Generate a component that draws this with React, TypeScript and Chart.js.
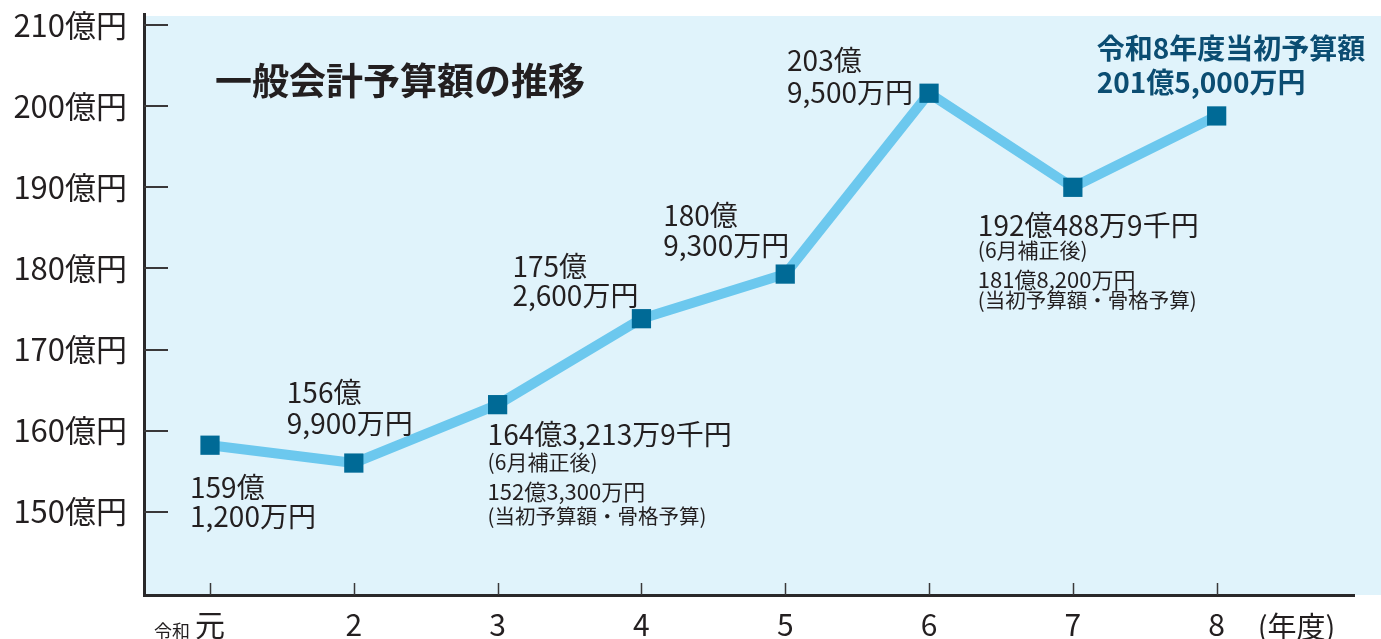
import { useEffect, useRef } from 'react';
import { Chart, registerables } from 'chart.js';

Chart.register(...registerables);

// ---- data ----
const YEARS = [0, 1, 2, 3, 4, 5, 6, 7];
const YEAR_LABELS = ['元', '2', '3', '4', '5', '6', '7', '8'];
// values as drawn on the chart's axis (億円)
const BUDGET_PLOT = [158.2, 156.0, 163.2, 173.8, 179.3, 201.6, 190.0, 198.8];
const Y_TICKS = [150, 160, 170, 180, 190, 200, 210];
const AMOUNT_LABELS: string[][] = [
  ['159億', '1,200万円'],
  ['156億', '9,900万円'],
  ['164億3,213万9千円', '(6月補正後)', '152億3,300万円', '(当初予算額・骨格予算)'],
  ['175億', '2,600万円'],
  ['180億', '9,300万円'],
  ['203億', '9,500万円'],
  ['192億488万9千円', '(6月補正後)', '181億8,200万円', '(当初予算額・骨格予算)'],
  ['令和8年度当初予算額', '201億5,000万円'],
];
const TITLE = '一般会計予算額の推移';
const ERA_PREFIX = '令和';
const X_UNIT = '(年度)';
const Y_UNIT = '億円';

// ---- styles ----
const FONT = '"Noto Sans CJK JP", "Noto Sans", sans-serif';
const TEXT = '#231f20';
const PANEL_BG = '#e0f3fb';
const LINE = '#6cc8ee';
const MARK = '#006a96';
const HIGHLIGHT = '#0b4d72';
const AXIS = '#2a2829';

type LabelStyle = { dx: number; dys: number[]; sizes: number[]; bold?: boolean; color?: string };
const LABEL_LAYOUT: LabelStyle[] = [
  { dx: -20, dys: [42, 71], sizes: [28, 28] },
  { dx: -67, dys: [-71, -40], sizes: [28, 28] },
  { dx: -10, dys: [30, 57, 87, 112], sizes: [28, 21, 22, 20.5] },
  { dx: -129, dys: [-52, -23], sizes: [28, 28] },
  { dx: -122, dys: [-59, -29], sizes: [28, 28] },
  { dx: -142, dys: [-33, -1], sizes: [28, 28] },
  { dx: -95, dys: [38, 63, 92, 113], sizes: [28, 21, 22, 20.5] },
  { dx: -120, dys: [-68, -34], sizes: [28, 28], bold: true, color: HIGHLIGHT },
];

const decorPlugin = {
  id: 'decor',
  beforeDraw(chart: any) {
    const { ctx, chartArea, width } = chart;
    ctx.save();
    ctx.fillStyle = PANEL_BG;
    ctx.fillRect(chartArea.left + 1, chartArea.top + 2, width - chartArea.left - 1, chartArea.bottom - chartArea.top - 2);
    ctx.restore();
  },
  beforeDatasetsDraw(chart: any) {
    const { ctx, chartArea, scales } = chart;
    const x = scales.x;
    const y = scales.y;
    ctx.save();
    ctx.strokeStyle = '#3a3839';
    ctx.lineWidth = 2;
    Y_TICKS.forEach((v) => {
      const py = Math.round(y.getPixelForValue(v));
      ctx.beginPath();
      ctx.moveTo(chartArea.left, py);
      ctx.lineTo(chartArea.left + 24, py);
      ctx.stroke();
    });
    ctx.lineWidth = 1.5;
    YEARS.forEach((v) => {
      const px = Math.round(x.getPixelForValue(v)) + 0.5;
      ctx.beginPath();
      ctx.moveTo(px, chartArea.bottom);
      ctx.lineTo(px, chartArea.bottom - 12);
      ctx.stroke();
    });
    ctx.restore();
  },
  afterDraw(chart: any) {
    const { ctx, chartArea, scales } = chart;
    const x = scales.x;
    const y = scales.y;
    ctx.save();
    ctx.textBaseline = 'middle';
    ctx.textAlign = 'left';
    // title
    ctx.fillStyle = TEXT;
    ctx.font = `bold 37px ${FONT}`;
    ctx.fillText(TITLE, chartArea.left + 71, chartArea.top + 67);
    // value labels
    AMOUNT_LABELS.forEach((lines, i) => {
      const lay = LABEL_LAYOUT[i];
      const px = x.getPixelForValue(YEARS[i]);
      const py = y.getPixelForValue(BUDGET_PLOT[i]);
      ctx.fillStyle = lay.color || TEXT;
      lines.forEach((t, j) => {
        ctx.font = `${lay.bold ? 'bold ' : ''}${lay.sizes[j]}px ${FONT}`;
        ctx.fillText(t, px + lay.dx, py + lay.dys[j]);
      });
    });
    // axis extras
    ctx.fillStyle = TEXT;
    ctx.font = `18px ${FONT}`;
    ctx.textAlign = 'right';
    ctx.fillText(ERA_PREFIX, x.getPixelForValue(YEARS[0]) - 20, chartArea.bottom + 36);
    ctx.font = `29px ${FONT}`;
    ctx.textAlign = 'left';
    ctx.fillText(X_UNIT, x.getPixelForValue(YEARS[YEARS.length - 1]) + 41, chartArea.bottom + 32);
    ctx.restore();
  },
};

export default function App() {
  const ref = useRef<HTMLCanvasElement | null>(null);
  useEffect(() => {
    if (!ref.current) return;
    const chart = new Chart(ref.current, {
      type: 'line',
      data: {
        datasets: [
          {
            data: YEARS.map((v, i) => ({ x: v, y: BUDGET_PLOT[i] })),
            borderColor: LINE,
            borderWidth: 10,
            borderJoinStyle: 'round',
            pointStyle: 'rect',
            pointRadius: 13.6,
            pointHoverRadius: 13.6,
            pointBackgroundColor: MARK,
            pointBorderWidth: 0,
            tension: 0,
            fill: false,
          },
        ],
      },
      options: {
        responsive: false,
        animation: false,
        events: [],
        layout: { padding: { top: 14, right: 27, left: 0, bottom: 0 } },
        plugins: { legend: { display: false }, tooltip: { enabled: false }, title: { display: false } },
        scales: {
          x: {
            type: 'linear',
            min: -0.459,
            max: 7.955,
            afterBuildTicks: (s: any) => {
              s.ticks = YEARS.map((v) => ({ value: v }));
            },
            afterFit: (s: any) => {
              s.height = 44;
              s.paddingLeft = 0;
              s.paddingRight = 0;
            },
            grid: { display: false, drawTicks: false },
            border: { display: true, color: AXIS, width: 3 },
            ticks: {
              autoSkip: false,
              maxRotation: 0,
              padding: 12,
              color: TEXT,
              font: { family: FONT, size: 30 },
              callback: (v: any) => YEAR_LABELS[YEARS.indexOf(Number(v))] ?? '',
            },
          },
          y: {
            type: 'linear',
            min: 139.73,
            max: 211.37,
            afterBuildTicks: (s: any) => {
              s.ticks = Y_TICKS.map((v) => ({ value: v }));
            },
            afterFit: (s: any) => {
              s.width = 144;
              s.paddingTop = 0;
              s.paddingBottom = 0;
            },
            grid: { display: false, drawTicks: false },
            border: { display: true, color: AXIS, width: 3 },
            ticks: {
              padding: 17,
              color: TEXT,
              font: { family: FONT, size: 31 },
              callback: (v: any) => `${v}${Y_UNIT}`,
            },
          },
        },
      },
      plugins: [decorPlugin],
    } as any);
    return () => chart.destroy();
  }, []);
  return (
    <div style={{ position: 'fixed', left: 0, top: 0, width: 1381, height: 639, background: '#ffffff' }}>
      <canvas ref={ref} width={1381} height={639} style={{ display: 'block' }} />
    </div>
  );
}
